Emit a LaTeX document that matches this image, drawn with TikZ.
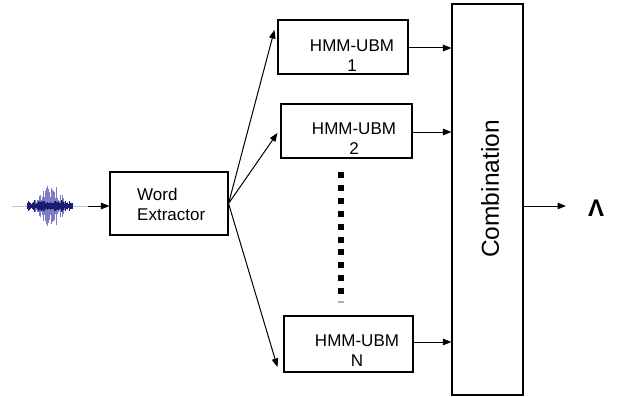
\documentclass[tikz,border=0pt]{standalone}
\usepackage{fontspec}
\setmainfont{Liberation Sans}
\usetikzlibrary{arrows.meta,calc}
\definecolor{wave}{RGB}{28,28,115}
\definecolor{wavelt}{RGB}{125,125,195}
\begin{document}
\begin{tikzpicture}[x=1pt,y=-1pt,
  box/.style={draw=black,line width=1.1pt,inner sep=0pt,rectangle},
  lbl/.style={inner sep=0pt,align=center,font=\fontsize{17}{20}\selectfont},
  conn/.style={line width=1pt,-{Triangle[length=8.5pt,width=6.5pt]}}]
\useasboundingbox (0,0) rectangle (618,396);
% waveform
\draw[wavelt!50,line width=1pt] (12,206) -- (88,206);
\pgfmathsetseed{11}
\foreach \i in {30,...,70}{
  \pgfmathsetmacro\h{22*sin((\i-30)/40*180)*(0.25+0.75*rnd)}
  \draw[wavelt,line width=0.7pt] (\i,206-\h) -- (\i,206+\h);
}
\foreach \i in {27,...,72}{
  \pgfmathsetmacro\h{2+4*rnd}
  \draw[wave,line width=1pt] (\i,206-\h) -- (\i,206+\h);
}
\coordinate (src) at (88,206);
% boxes
\node[box,minimum width=118pt,minimum height=63pt] (we) at (169,203.5) {};
\node[lbl,align=left,anchor=west] (wet) at (137,204.5) {Word\\Extractor};
\node[box,minimum width=130pt,minimum height=54pt] (b1) at (343,47) {};
\node[lbl] (t1) at (352,55.5) {HMM-UBM\\1};
\node[box,minimum width=131pt,minimum height=54pt] (b2) at (346.5,131) {};
\node[lbl] (t2) at (354,139) {HMM-UBM\\2};
\node[box,minimum width=129pt,minimum height=56pt] (bN) at (348.5,344) {};
\node[lbl] (tN) at (357,350.5) {HMM-UBM\\N};
\node[box,minimum width=71pt,minimum height=391pt] (comb) at (487.5,199.5) {};
\node[inner sep=0pt,rotate=90,font=\fontsize{24.5}{28}\selectfont] (ct) at (490,189) {Combination};
\node[inner sep=0pt,font=\fontsize{24}{26}\selectfont\bfseries] (lam) at (596,208.5) {Λ};
% dots
\foreach \k in {0,...,9}{
  \fill (340.7,175+12.9*\k) ++(-3,-3) rectangle ++(6,6);
}
\fill[gray!60] (340.7,302) ++(-3,-1) rectangle ++(6,2);
% connectors
\draw[conn] (src) -- (we.west |- src);
\draw[conn] (we.east) -- ([xshift=-3pt,yshift=17pt]b1.west);
\draw[conn] (we.east) -- ([xshift=-3pt,yshift=-2pt]b2.west);
\draw[conn] (we.east) -- ([xshift=-6pt,yshift=-23pt]bN.west);
\draw[conn] ([yshift=-1pt]b1.east) -- ([yshift=-1pt]b1.east -| comb.west);
\draw[conn] ([yshift=-1pt]b2.east) -- ([yshift=-1pt]b2.east -| comb.west);
\draw[conn] ([yshift=2pt]bN.east) -- ([yshift=2pt]bN.east -| comb.west);
\coordinate (outend) at (566,206);
\draw[conn] (comb.east |- outend) -- (outend);
\end{tikzpicture}
\end{document}
